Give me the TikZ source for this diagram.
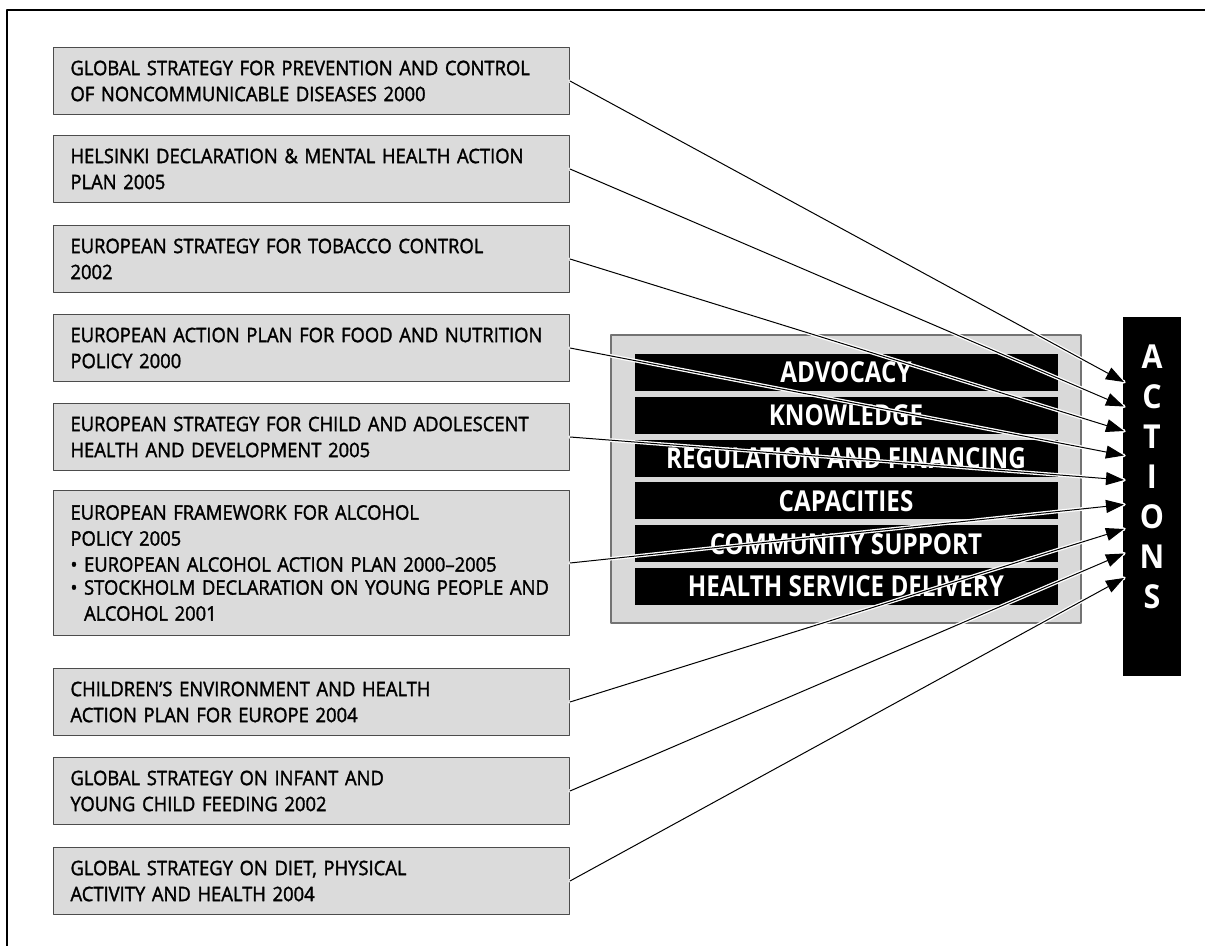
\documentclass[tikz,border=0pt]{standalone}
\usepackage{fontspec}
\setmainfont{Open Sans}[UprightFeatures={FakeBold=1.6}, FakeStretch=0.92]
\newfontfamily\barfont{Open Sans}[FakeStretch=0.84]
\usetikzlibrary{arrows.meta}
\hyphenpenalty=10000
\tikzset{
  policy/.style={draw=black!70, fill=black!14, line width=0.5pt, anchor=north west,
    text width=241pt, inner xsep=8.5pt, align=left, minimum height=33.5pt,
    font=\fontsize{10}{13}\selectfont},
  area/.style={draw=black!55, fill=black!15, line width=0.6pt, minimum width=235pt, minimum height=144pt},
  bar/.style={fill=black, text=white, minimum width=211.5pt, minimum height=18.5pt, inner sep=0pt,
    font=\barfont\bfseries\fontsize{14.4}{16}\selectfont},
  conn/.style={-{Triangle[length=9pt,width=6.5pt]}, line width=0.5pt,
    preaction={draw=white, line width=1.8pt, arrows=-}}
}
\begin{document}
\begin{tikzpicture}[x=0.5pt, y=-0.5pt, line cap=round, line join=round]
\useasboundingbox (0,0) rectangle (1205,946);
\draw[line width=0.6pt] (7,946) -- (7,10) -- (1205,10);

% policies on the left
\node[policy] (p1) at (53,47) {GLOBAL STRATEGY FOR PREVENTION AND CONTROL\\OF NONCOMMUNICABLE DISEASES 2000};
\node[policy] (p2) at (53,135) {HELSINKI DECLARATION \& MENTAL HEALTH ACTION\\PLAN 2005};
\node[policy] (p3) at (53,225) {EUROPEAN STRATEGY FOR TOBACCO CONTROL\\2002};
\node[policy] (p4) at (53,314) {EUROPEAN ACTION PLAN FOR FOOD AND NUTRITION\\POLICY 2000};
\node[policy] (p5) at (53,403) {EUROPEAN STRATEGY FOR CHILD AND ADOLESCENT\\HEALTH AND DEVELOPMENT 2005};
\node[policy, minimum height=72.5pt] (p6) at (53,490) {EUROPEAN FRAMEWORK FOR ALCOHOL\\POLICY 2005\\[1.5pt]
  {\fontsize{10}{11.5}\selectfont • EUROPEAN ALCOHOL ACTION PLAN 2000–2005\\
  • STOCKHOLM DECLARATION ON YOUNG PEOPLE AND\\
  \phantom{• }ALCOHOL 2001}};
\node[policy] (p7) at (53,668) {CHILDREN’S ENVIRONMENT AND HEALTH\\ACTION PLAN FOR EUROPE 2004};
\node[policy] (p8) at (53,757) {GLOBAL STRATEGY ON INFANT AND\\YOUNG CHILD FEEDING 2002};
\node[policy] (p9) at (53,847) {GLOBAL STRATEGY ON DIET, PHYSICAL\\ACTIVITY AND HEALTH 2004};

% areas of action
\node[area] (area) at (846,479) {};
\foreach \txt [count=\i] in {ADVOCACY, KNOWLEDGE, REGULATION AND FINANCING,
    CAPACITIES, COMMUNITY SUPPORT, HEALTH SERVICE DELIVERY}
  \node[bar] (b\i) at (846,{372.5+42.8*(\i-1)}) {\txt};

% actions column
\node[fill=black, text=white, minimum width=29pt, minimum height=179pt, inner sep=0pt,
  align=center, font=\bfseries\fontsize{16.5}{20}\selectfont] (actions) at (1152,496.5)
  {A\\C\\T\\I\\O\\N\\S\\[0pt]\mbox{}};
\foreach \i in {1,...,9}
  \coordinate (t\i) at (1124,{382+24.5*(\i-1)});

\foreach \i in {1,...,9}
  \draw[conn] (p\i.east) -- (t\i);
\end{tikzpicture}
\end{document}
